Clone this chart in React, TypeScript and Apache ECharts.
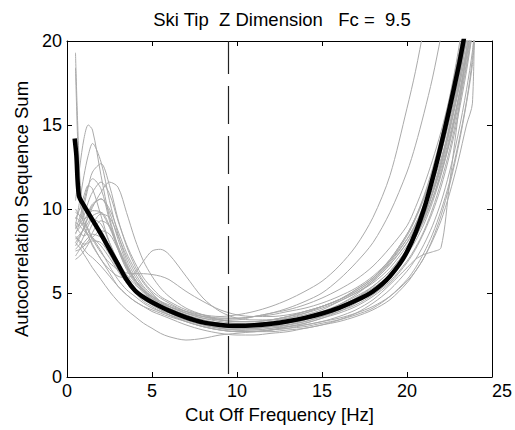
import React, { useEffect, useRef } from "react";
import * as echarts from "echarts";

// Shared frequency grid [Hz] for the trial curves
const freqs = [
  0.5, 0.75, 1, 1.25, 1.5, 2, 2.5, 3, 3.5,
  4, 4.5, 5, 5.5, 6, 7, 8, 9,
  10, 11, 12, 13, 14, 15, 16, 17, 18, 19,
  20, 20.5, 21, 21.5, 22, 22.5, 23, 23.5, 23.85, 24,
];

// Individual trial curves (gray), values at freqs
const trialA = [19.3, 12.0, 9.5, 8.8, 8.3, 7.5, 6.6, 5.8, 5.2, 4.8, 4.4, 4.1, 3.9, 3.7, 3.4, 3.2, 3.0, 2.9, 2.9, 3.0, 3.1, 3.3, 3.6, 4.0, 4.5, 5.1, 6.0, 7.3, 8.3, 9.5, 11.0, 12.8, 15.0, 17.5, 20.5, 22.5, 24];
const trialB = [18.4, 11.0, 9.0, 8.4, 7.8, 7.0, 6.2, 5.4, 4.9, 4.5, 4.2, 4.0, 3.8, 3.6, 3.3, 3.0, 2.8, 2.7, 2.7, 2.8, 3.0, 3.2, 3.5, 3.8, 4.2, 4.8, 5.6, 6.8, 7.6, 8.6, 9.8, 11.3, 13.2, 15.5, 18.2, 20.5, 21.5];
const trialC = [10.5, 12.5, 14.2, 15.0, 14.7, 12.0, 9.5, 7.8, 6.6, 5.8, 5.2, 4.8, 4.5, 4.2, 3.8, 3.5, 3.3, 3.2, 3.2, 3.3, 3.5, 3.8, 4.2, 4.6, 5.2, 5.9, 7.0, 8.5, 9.5, 10.7, 12.2, 13.9, 16.0, 18.4, 21.0, 23, 24];
const trialD = [9.0, 10.5, 12.0, 13.2, 13.9, 12.8, 10.5, 8.5, 7.0, 6.0, 5.3, 4.8, 4.4, 4.1, 3.7, 3.4, 3.2, 3.1, 3.1, 3.2, 3.4, 3.6, 3.9, 4.3, 4.8, 5.4, 6.3, 7.6, 8.5, 9.6, 11.0, 12.6, 14.6, 16.9, 19.5, 21.5, 22.5];
const trialE = [8.5, 9.2, 10.2, 11.3, 12.2, 12.7, 11.4, 9.4, 7.8, 6.6, 5.7, 5.1, 4.7, 4.4, 3.9, 3.6, 3.4, 3.3, 3.3, 3.4, 3.6, 3.9, 4.2, 4.6, 5.2, 5.9, 6.9, 8.2, 9.1, 10.3, 11.7, 13.3, 15.3, 17.6, 20.2, 22, 23];
const trialF = [8.0, 8.4, 8.9, 9.5, 10.1, 11.0, 11.6, 11.3, 9.8, 8.2, 6.9, 6.0, 5.3, 4.8, 4.1, 3.7, 3.4, 3.3, 3.3, 3.4, 3.6, 3.9, 4.2, 4.6, 5.1, 5.8, 6.9, 8.4, 9.4, 10.6, 12.0, 13.7, 15.7, 18.0, 20.6, 22.5, 23.5];
const trialG = [8.8, 9.5, 10.5, 11.4, 11.8, 11.2, 9.3, 7.6, 6.4, 5.6, 5.0, 4.6, 4.3, 4.0, 3.6, 3.3, 3.1, 3.0, 3.0, 3.1, 3.3, 3.5, 3.8, 4.2, 4.7, 5.3, 6.1, 7.3, 8.1, 9.1, 10.4, 12.0, 14.0, 16.4, 19.2, 21, 22];
const trialH = [7.8, 8.3, 8.9, 9.6, 10.2, 10.6, 9.8, 8.2, 6.8, 5.8, 5.1, 4.6, 4.2, 3.9, 3.5, 3.2, 3.0, 2.9, 2.9, 3.0, 3.1, 3.3, 3.6, 3.9, 4.3, 4.9, 5.7, 6.9, 7.7, 8.7, 10.0, 11.6, 13.5, 15.8, 18.5, 20.5, 21.5];
const trialI = [9.5, 9.3, 8.9, 8.4, 7.9, 7.0, 6.4, 6.0, 5.9, 6.2, 6.9, 7.5, 7.6, 7.3, 6.0, 4.7, 3.9, 3.5, 3.4, 3.4, 3.5, 3.7, 4.0, 4.5, 5.0, 5.7, 6.7, 8.0, 9.0, 10.2, 11.7, 13.4, 15.5, 17.9, 20.6, 22.5, 23.5];
const trialJ = [9.8, 9.6, 9.2, 8.7, 8.2, 7.4, 6.8, 6.4, 6.2, 6.15, 6.15, 6.1, 6.0, 5.8, 5.1, 4.5, 4.0, 3.7, 3.6, 3.6, 3.7, 3.9, 4.2, 4.6, 5.1, 5.8, 6.8, 8.2, 9.1, 10.2, 11.5, 13.0, 14.8, 17.0, 19.5, 21.5, 22.5];
const trialK = [8.2, 8.5, 8.8, 9.2, 9.6, 9.8, 9.0, 7.6, 6.5, 5.7, 5.1, 4.7, 4.4, 4.2, 3.9, 3.7, 3.6, 3.7, 3.9, 4.2, 4.6, 5.1, 5.7, 6.6, 7.8, 9.5, 12.0, 16.0, 18.2, 20.8, 23.5, 26, 28, 30, 32, 33, 34];
const trialL = [8.6, 8.9, 9.3, 9.8, 10.3, 10.6, 10.0, 8.7, 7.4, 6.4, 5.6, 5.0, 4.5, 4.2, 3.8, 3.5, 3.4, 3.4, 3.6, 3.8, 4.1, 4.5, 5.0, 5.8, 6.8, 8.0, 9.8, 12.2, 13.8, 15.7, 17.8, 20.3, 23, 26, 29, 30, 31];
const trialM = [7.5, 7.6, 7.8, 8.0, 8.1, 8.0, 7.3, 6.4, 5.6, 5.0, 4.5, 4.2, 3.9, 3.7, 3.3, 3.0, 2.8, 2.7, 2.7, 2.8, 2.9, 3.1, 3.3, 3.6, 4.0, 4.6, 5.5, 6.5, 7.0, 7.3, 7.45, 7.7, 11.5, 15.5, 19.5, 22.5, 24];
const trialN = [8.0, 7.7, 7.3, 6.9, 6.5, 5.8, 5.1, 4.5, 4.0, 3.6, 3.2, 2.9, 2.6, 2.4, 2.2, 2.3, 2.5, 2.6, 2.7, 2.8, 2.9, 3.0, 3.2, 3.4, 3.7, 4.1, 4.8, 5.8, 6.5, 7.4, 8.5, 9.9, 11.6, 13.8, 16.4, 19.0, 21.5];
const trialO = [9.2, 9.0, 8.7, 8.5, 8.3, 7.8, 7.1, 6.3, 5.6, 5.0, 4.6, 4.3, 4.0, 3.8, 3.4, 3.1, 2.9, 2.8, 2.8, 2.9, 3.0, 3.1, 3.3, 3.5, 3.8, 4.2, 4.8, 5.7, 6.3, 7.1, 8.1, 9.3, 10.9, 12.8, 15.0, 16.3, 24];
const trialP = [7.2, 7.6, 8.0, 8.3, 8.5, 8.3, 7.6, 6.7, 5.9, 5.2, 4.7, 4.3, 4.0, 3.7, 3.3, 3.0, 2.8, 2.7, 2.7, 2.8, 3.0, 3.2, 3.5, 3.9, 4.4, 5.1, 6.1, 7.5, 8.4, 9.5, 10.9, 12.6, 14.7, 17.2, 20.1, 22, 23];
const trialQ = [10.0, 9.6, 9.4, 9.6, 9.9, 9.8, 8.9, 7.7, 6.6, 5.8, 5.2, 4.7, 4.4, 4.1, 3.7, 3.4, 3.2, 3.1, 3.1, 3.2, 3.3, 3.5, 3.8, 4.2, 4.7, 5.4, 6.3, 7.6, 8.4, 9.4, 10.6, 12.1, 13.9, 16.1, 18.7, 20.8, 22];
const trialR = [7.0, 7.2, 7.5, 7.9, 8.3, 8.7, 8.5, 7.6, 6.6, 5.8, 5.2, 4.7, 4.3, 4.0, 3.5, 3.2, 2.9, 2.8, 2.7, 2.7, 2.8, 2.9, 3.1, 3.3, 3.6, 4.0, 4.6, 5.6, 6.3, 7.1, 8.2, 9.6, 11.4, 13.6, 16.3, 18.6, 20.5];
const trialS = [9.0, 8.6, 8.4, 8.6, 9.1, 9.7, 9.5, 8.4, 7.2, 6.2, 5.4, 4.9, 4.5, 4.2, 3.8, 3.6, 3.5, 3.5, 3.6, 3.7, 3.9, 4.1, 4.4, 4.8, 5.3, 6.0, 7.0, 8.5, 9.5, 10.8, 12.4, 14.3, 16.6, 19.3, 22.5, 24, 25];
const trialT = [8.3, 8.0, 7.6, 7.3, 7.1, 6.6, 6.0, 5.4, 4.9, 4.5, 4.2, 3.9, 3.7, 3.5, 3.1, 2.8, 2.6, 2.5, 2.5, 2.6, 2.7, 2.9, 3.1, 3.4, 3.8, 4.4, 5.2, 6.3, 7.0, 7.9, 9.0, 10.4, 12.2, 14.4, 17.1, 19.4, 21];
const trialU = [9.4, 10.0, 10.8, 11.4, 11.2, 9.6, 8.0, 6.9, 6.1, 5.5, 5.1, 4.8, 4.5, 4.3, 3.9, 3.6, 3.4, 3.3, 3.3, 3.4, 3.6, 3.8, 4.1, 4.5, 5.0, 5.6, 6.5, 7.8, 8.6, 9.6, 10.9, 12.4, 14.3, 16.5, 19.1, 21, 22];
const trialV = [7.6, 7.9, 8.4, 9.0, 9.4, 9.1, 8.0, 6.9, 6.0, 5.3, 4.8, 4.4, 4.1, 3.9, 3.5, 3.2, 3.0, 2.9, 2.9, 3.0, 3.2, 3.4, 3.7, 4.0, 4.5, 5.1, 6.0, 7.4, 8.3, 9.3, 10.6, 12.2, 14.1, 16.4, 19.0, 21, 22];
const trialW = [8.9, 9.1, 9.6, 10.4, 11.0, 11.6, 10.9, 9.3, 7.9, 6.8, 5.9, 5.3, 4.8, 4.5, 4.0, 3.7, 3.5, 3.5, 3.6, 3.8, 4.0, 4.3, 4.7, 5.2, 5.8, 6.6, 7.7, 9.0, 10.1, 11.4, 12.9, 14.6, 16.6, 19.0, 21.6, 24, 25];
const trialX = [8.4, 8.1, 7.9, 8.1, 8.6, 9.3, 9.0, 7.8, 6.7, 5.8, 5.1, 4.6, 4.2, 3.9, 3.4, 3.1, 2.9, 2.8, 2.8, 2.9, 3.1, 3.4, 3.8, 4.3, 4.9, 5.7, 6.7, 8.0, 8.8, 9.9, 11.2, 12.8, 14.8, 17.2, 20.0, 22, 23];

// Mean curve (black)
const meanFreq = [0.45, 0.55, 0.7, 1.0, 1.5, 2, 2.5, 3, 3.5, 4, 4.5, 5, 6, 7, 8, 9, 9.5, 10, 11, 12, 13, 14, 15, 16, 17, 18, 19, 20, 21, 22, 23, 23.5];
const meanVal = [14.2, 13.2, 10.8, 10.2, 9.35, 8.5, 7.6, 6.7, 5.8, 5.15, 4.75, 4.45, 3.95, 3.55, 3.25, 3.1, 3.05, 3.05, 3.08, 3.17, 3.32, 3.52, 3.78, 4.12, 4.55, 5.1, 6.0, 7.45, 10.0, 13.8, 18.3, 21];

// Cut-off frequency marker
const cutoff = 9.5;

const titleText = "Ski Tip  Z Dimension   Fc =  9.5";
const xName = "Cut Off Frequency [Hz]";
const yName = "Autocorrelation Sequence Sum";

const FONT = "'Liberation Sans', Arial, Helvetica, sans-serif";

export default function App() {
  const ref = useRef<HTMLDivElement>(null);

  useEffect(() => {
    if (!ref.current) return;
    const chart = echarts.init(ref.current, undefined, { renderer: "svg" });
    const trials = [trialA, trialB, trialC, trialD, trialE, trialF, trialG, trialH, trialI, trialJ, trialK, trialL, trialM, trialN, trialO, trialP, trialQ, trialR, trialS, trialT, trialU, trialV, trialW, trialX];

    const grayLines = trials.map((vals) => ({
      type: "line",
      data: freqs.map((f, i) => [f, vals[i]]),
      symbol: "none",
      showSymbol: false,
      smooth: 0.3,
      silent: true,
      clip: true,
      lineStyle: { color: "#aaaaaa", width: 1 },
      z: 2,
    }));

    const axisCommon = {
      axisLine: { show: true, onZero: false, lineStyle: { color: "#000", width: 1 } },
      axisTick: { show: true, inside: true, length: 5, lineStyle: { color: "#000", width: 1 } },
      splitLine: { show: false },
    };

    chart.setOption({
      animation: false,
      backgroundColor: "#fff",
      grid: { left: 67, right: 15, top: 41, bottom: 53, containLabel: false },
      graphic: [
        {
          type: "text",
          x: 282,
          y: 19,
          style: {
            text: titleText,
            textAlign: "center",
            textVerticalAlign: "middle",
            fontSize: 18.5,
            fontFamily: FONT,
            fill: "#000",
          },
        },
      ],
      xAxis: [
        {
          type: "value",
          position: "bottom",
          min: 0,
          max: 25,
          interval: 5,
          ...axisCommon,
          axisLabel: {
            color: "#000",
            fontSize: 18,
            fontFamily: FONT,
            margin: 5,
            formatter: (v: number) => (v === 25 ? "{r|25}" : String(v)),
            rich: { r: { color: "#000", fontSize: 18, fontFamily: FONT, padding: [0, 0, 0, 20] } },
          },
          name: xName,
          nameLocation: "middle",
          nameGap: 26,
          nameTextStyle: { color: "#000", fontSize: 18.5, fontFamily: FONT },
        },
        {
          type: "value",
          position: "top",
          min: 0,
          max: 25,
          interval: 5,
          ...axisCommon,
          axisLabel: { show: false },
        },
      ],
      yAxis: [
        {
          type: "value",
          position: "left",
          min: 0,
          max: 20,
          interval: 5,
          ...axisCommon,
          axisLabel: { color: "#000", fontSize: 18, fontFamily: FONT, margin: 5 },
          name: yName,
          nameLocation: "middle",
          nameGap: 36,
          nameTextStyle: { color: "#000", fontSize: 18.5, fontFamily: FONT },
        },
        {
          type: "value",
          position: "right",
          min: 0,
          max: 20,
          interval: 5,
          ...axisCommon,
          axisLabel: { show: false },
        },
      ],
      series: [
        ...grayLines,
        {
          type: "line",
          data: [
            [cutoff, 20],
            [cutoff, 0],
          ],
          symbol: "none",
          silent: true,
          lineStyle: { color: "#222", width: 1.2, type: [38, 12], dashOffset: 5 },
          z: 3,
        },
        {
          type: "line",
          data: meanFreq.map((f, i) => [f, meanVal[i]]),
          symbol: "none",
          showSymbol: false,
          smooth: 0.3,
          silent: true,
          clip: true,
          lineStyle: { color: "#000", width: 4.5 },
          z: 4,
        },
      ],
    });

    return () => chart.dispose();
  }, []);

  return (
    <div
      ref={ref}
      style={{ position: "fixed", left: 0, top: 0, width: 515, height: 430, background: "#fff" }}
    />
  );
}
